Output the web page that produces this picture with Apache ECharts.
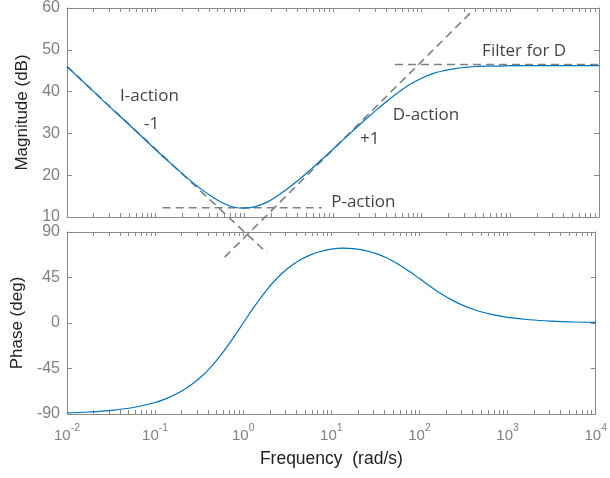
<!DOCTYPE html>
<html>
<head>
<meta charset="utf-8">
<script src="https://cdn.jsdelivr.net/npm/echarts@6/dist/echarts.min.js"></script>
<style>
  html, body { margin: 0; padding: 0; background: #fff; }
  #bode { width: 610px; height: 478px; }
</style>
</head>
<body>
<div id="bode"></div>
<script>
// frequency points (rad/s)
const freq = [0.01, 0.01778, 0.03162, 0.05623, 0.1, 0.1334, 0.1778, 0.2371, 0.3162, 0.4217, 0.5623, 0.75, 1, 1.334, 1.778, 2.371, 3.162, 4.217, 5.623, 7.5, 10, 13.34, 17.78, 23.71, 31.62, 42.17, 56.23, 75, 100, 133.4, 177.8, 237.1, 316.2, 421.7, 562.3, 750, 1000, 1778, 3162, 5623, 10000]
const magDb = [46.0, 41.0, 36.0, 31.1, 26.1, 23.7, 21.3, 19.0, 16.9, 15.0, 13.4, 12.4, 12.1, 12.5, 13.5, 15.1, 17.0, 19.1, 21.4, 23.8, 26.2, 28.7, 31.1, 33.5, 35.8, 38.0, 40.0, 41.8, 43.2, 44.3, 45.0, 45.5, 45.8, 46.0, 46.1, 46.1, 46.2, 46.2, 46.2, 46.2, 46.2]
const phaseDeg = [-88.9, -88.0, -86.4, -83.6, -78.6, -74.8, -69.8, -63.3, -54.9, -44.3, -31.3, -16.2, 0, 16.2, 30.9, 43.5, 53.6, 61.3, 66.9, 70.7, 73.0, 74.0, 73.6, 71.9, 68.9, 64.5, 58.6, 51.6, 43.9, 36.0, 28.7, 22.4, 17.2, 13.1, 9.9, 7.5, 5.6, 3.2, 1.8, 1.0, 0.6]

// dashed asymptotes
const iLineW = [0.01, 1.8]
const iLineDb = [46.0, 1.4]
const pLineW = [0.12, 7.5]
const pLineDb = [12.2, 12.2]
const dLineW = [0.6, 350]
const dLineDb = [0.4, 58.7]
const fLineW = [50, 10000]
const fLineDb = [46.5, 46.5]

// annotations
const noteText = ['I-action', '-1', 'D-action', '+1', 'P-action', 'Filter for D']
const noteW = [0.085, 0.09, 112, 26, 22, 1430]
const noteDb = [38.9, 32.2, 34.4, 28.6, 13.6, 49.7]

// ticks
const decades = [0.01, 0.1, 1, 10, 100, 1000, 10000]

const axisGray = '#8a8a8a'
const labelGray = '#808080'
const textDark = '#222'

const allTicks = []
decades.forEach((d, i) => {
  allTicks.push(d)
  if (i < decades.length - 1) {
    for (let k = 2; k <= 9; k++) allTicks.push(+(d * k).toPrecision(3))
  }
})

const zip = (xs, ys) => xs.map((x, i) => [x, ys[i]])

function xAx(grid, pos, withLabels) {
  return {
    type: 'log',
    logBase: 10,
    gridIndex: grid,
    position: pos,
    min: 0.01,
    max: 10000,
    axisLine: { show: true, onZero: false, lineStyle: { color: axisGray, width: 1 } },
    axisTick: { show: true, inside: true, length: 4, customValues: allTicks, lineStyle: { color: axisGray } },
    splitLine: { show: false },
    axisLabel: withLabels ? {
      show: true,
      margin: 9,
      customValues: decades,
      color: labelGray,
      fontFamily: 'Liberation Sans',
      formatter: (v) => '{b|10}{s|' + Math.round(Math.log10(v)) + '}',
      rich: {
        b: { fontSize: 15, color: labelGray, fontFamily: 'Liberation Sans', verticalAlign: 'bottom', lineHeight: 20 },
        s: { fontSize: 10.5, color: labelGray, fontFamily: 'Liberation Sans', verticalAlign: 'top', lineHeight: 20 }
      }
    } : { show: false },
    name: withLabels ? 'Frequency  (rad/s)' : '',
    nameLocation: 'middle',
    nameGap: 36,
    nameTextStyle: { color: textDark, fontSize: 17.5, fontFamily: 'Liberation Sans' }
  }
}

function yAx(grid, pos, min, max, interval, withLabels, name, gap) {
  return {
    type: 'value',
    gridIndex: grid,
    position: pos,
    min: min,
    max: max,
    interval: interval,
    axisLine: { show: true, onZero: false, lineStyle: { color: axisGray, width: 1 } },
    axisTick: { show: true, inside: true, length: 5, lineStyle: { color: axisGray } },
    splitLine: { show: false },
    axisLabel: {
      show: withLabels,
      margin: 7,
      color: labelGray,
      fontSize: 16,
      fontFamily: 'Liberation Sans'
    },
    name: withLabels ? name : '',
    nameLocation: 'middle',
    nameGap: gap,
    nameTextStyle: { color: textDark, fontSize: 17, fontFamily: 'Liberation Sans' }
  }
}

const dashed = (xs, ys) => ({
  type: 'line',
  xAxisIndex: 0,
  yAxisIndex: 0,
  data: zip(xs, ys),
  symbol: 'none',
  clip: false,
  silent: true,
  z: 2,
  lineStyle: { color: '#808080', width: 1.6, type: [8, 5] }
})

const chart = echarts.init(document.getElementById('bode'), null, { renderer: 'canvas' })

const option = {
  animation: false,
  backgroundColor: '#fff',
  grid: [
    { left: 67, right: 11, top: 8, height: 209 },
    { left: 67, right: 11, top: 232, height: 182 }
  ],
  xAxis: [
    xAx(0, 'bottom', false),
    xAx(0, 'top', false),
    xAx(1, 'bottom', true),
    xAx(1, 'top', false)
  ],
  yAxis: [
    yAx(0, 'left', 10, 60, 10, true, 'Magnitude (dB)', 31),
    yAx(0, 'right', 10, 60, 10, false, '', 0),
    yAx(1, 'left', -90, 90, 45, true, 'Phase (deg)', 38),
    yAx(1, 'right', -90, 90, 45, false, '', 0)
  ],
  series: [
    dashed(iLineW, iLineDb),
    dashed(pLineW, pLineDb),
    dashed(dLineW, dLineDb),
    dashed(fLineW, fLineDb),
    {
      type: 'line',
      xAxisIndex: 0,
      yAxisIndex: 0,
      data: zip(freq, magDb),
      symbol: 'none',
      smooth: 0.4,
      z: 3,
      lineStyle: { color: '#0072BD', width: 1.2 }
    },
    {
      type: 'line',
      xAxisIndex: 2,
      yAxisIndex: 2,
      data: zip(freq, phaseDeg),
      symbol: 'none',
      smooth: 0.4,
      z: 3,
      lineStyle: { color: '#0072BD', width: 1.2 }
    },
    {
      type: 'scatter',
      xAxisIndex: 0,
      yAxisIndex: 0,
      symbolSize: 0,
      silent: true,
      z: 4,
      data: noteText.map((t, i) => ({ name: t, value: [noteW[i], noteDb[i]] })),
      label: {
        show: true,
        position: 'inside',
        formatter: (p) => p.name,
        color: '#111',
        fontSize: 17,
        fontFamily: 'Open Sans'
      }
    }
  ]
}

chart.setOption(option)
window.addEventListener('resize', function () {
  chart.resize()
})
</script>
</body>
</html>
